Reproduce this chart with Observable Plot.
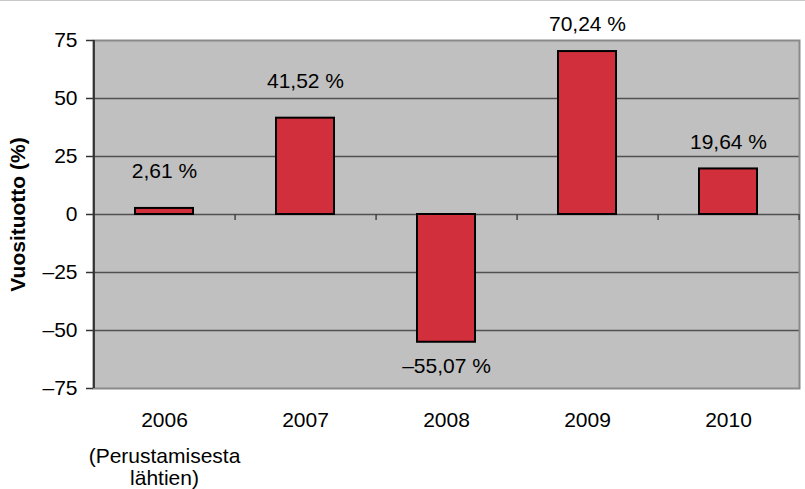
<!DOCTYPE html>
<html>
<head>
<meta charset="utf-8">
<script src="https://cdn.jsdelivr.net/npm/d3@7"></script>
<script src="https://cdn.jsdelivr.net/npm/@observablehq/plot@0.6"></script>
<style>
  html, body { margin: 0; padding: 0; background: #fff; }
  #topline { position: absolute; left: 0; top: 0; width: 805px; height: 1px; background: #c8c8c8; }
  #chart { position: relative; }
</style>
</head>
<body>
<div id="topline"></div>
<div id="chart"></div>
<script>
const years = ["2006", "2007", "2008", "2009", "2010"];
const returns = [2.61, 41.52, -55.07, 70.24, 19.64];
const valueLabels = ["2,61 %", "41,52 %", "–55,07 %", "70,24 %", "19,64 %"];
const yTicks = [-75, -50, -25, 0, 25, 50, 75];
const yTickLabels = ["–75", "–50", "–25", "0", "25", "50", "75"];
const firstYearNote = "(Perustamisesta\nlähtien)";
const yLabel = "Vuosituotto (%)";

const data = years.map((year, i) => ({year, value: returns[i], label: valueLabels[i], i}));

const W = 805, H = 489, ML = 93, MR = 6, MT = 40, MB = 101;
const step = (W - ML - MR) / years.length;
const font = "'Liberation Sans', Arial, sans-serif";

const chart = Plot.plot({
  width: W,
  height: H,
  marginLeft: ML,
  marginRight: MR,
  marginTop: MT,
  marginBottom: MB,
  style: {fontFamily: font, fontSize: "21px", color: "#000", background: "transparent", overflow: "visible"},
  x: {domain: years, paddingInner: 0.59, paddingOuter: 0.295},
  y: {domain: [-75, 75]},
  marks: [
    Plot.frame({fill: "#c0c0c0", stroke: "none"}),
    Plot.gridY(yTicks.filter(d => d > -75 && d < 75), {stroke: "#505050", strokeOpacity: 1, strokeWidth: 1.3}),
    Plot.frame({stroke: "#8a8a8a", strokeWidth: 2}),
    Plot.ruleX(data, {x: "year", y1: 0, y2: 0, dx: step / 2, insetBottom: -6, stroke: "#444", strokeWidth: 1.5}),
    Plot.barY(data, {x: "year", y: "value", fill: "#d22f3c", stroke: "#000", strokeWidth: 2}),
    Plot.ruleX([years[0]], {x: d => d, y1: -75, y2: 75, dx: -step / 2, stroke: "#333", strokeWidth: 2}),
    Plot.axisY({ticks: yTicks, tickFormat: d => yTickLabels[yTicks.indexOf(d)], tickSize: 7, tickPadding: 9, label: null, stroke: "#333", strokeWidth: 1.5}),
    Plot.axisX({tickSize: 0, tickPadding: 24, label: null}),
    Plot.text([yLabel], {text: d => d, frameAnchor: "left", textAnchor: "middle", dx: -75, rotate: -90, fontWeight: "bold", fontSize: 21}),
    Plot.text([firstYearNote], {text: d => d, x: () => years[0], y: () => -75, lineAnchor: "top", dy: 58, lineHeight: 1.08, fontSize: 21}),
    Plot.text(data.filter(d => d.value >= 0 && d.i < 2), {x: "year", y: "value", text: "label", dy: -37, fontSize: 21}),
    Plot.text(data.filter(d => d.value >= 0 && d.i >= 2), {x: "year", y: "value", text: "label", dy: -27, fontSize: 21}),
    Plot.text(data.filter(d => d.value < 0), {x: "year", y: "value", text: "label", dy: 24, fontSize: 21})
  ]
});
document.getElementById("chart").appendChild(chart);
</script>
</body>
</html>
